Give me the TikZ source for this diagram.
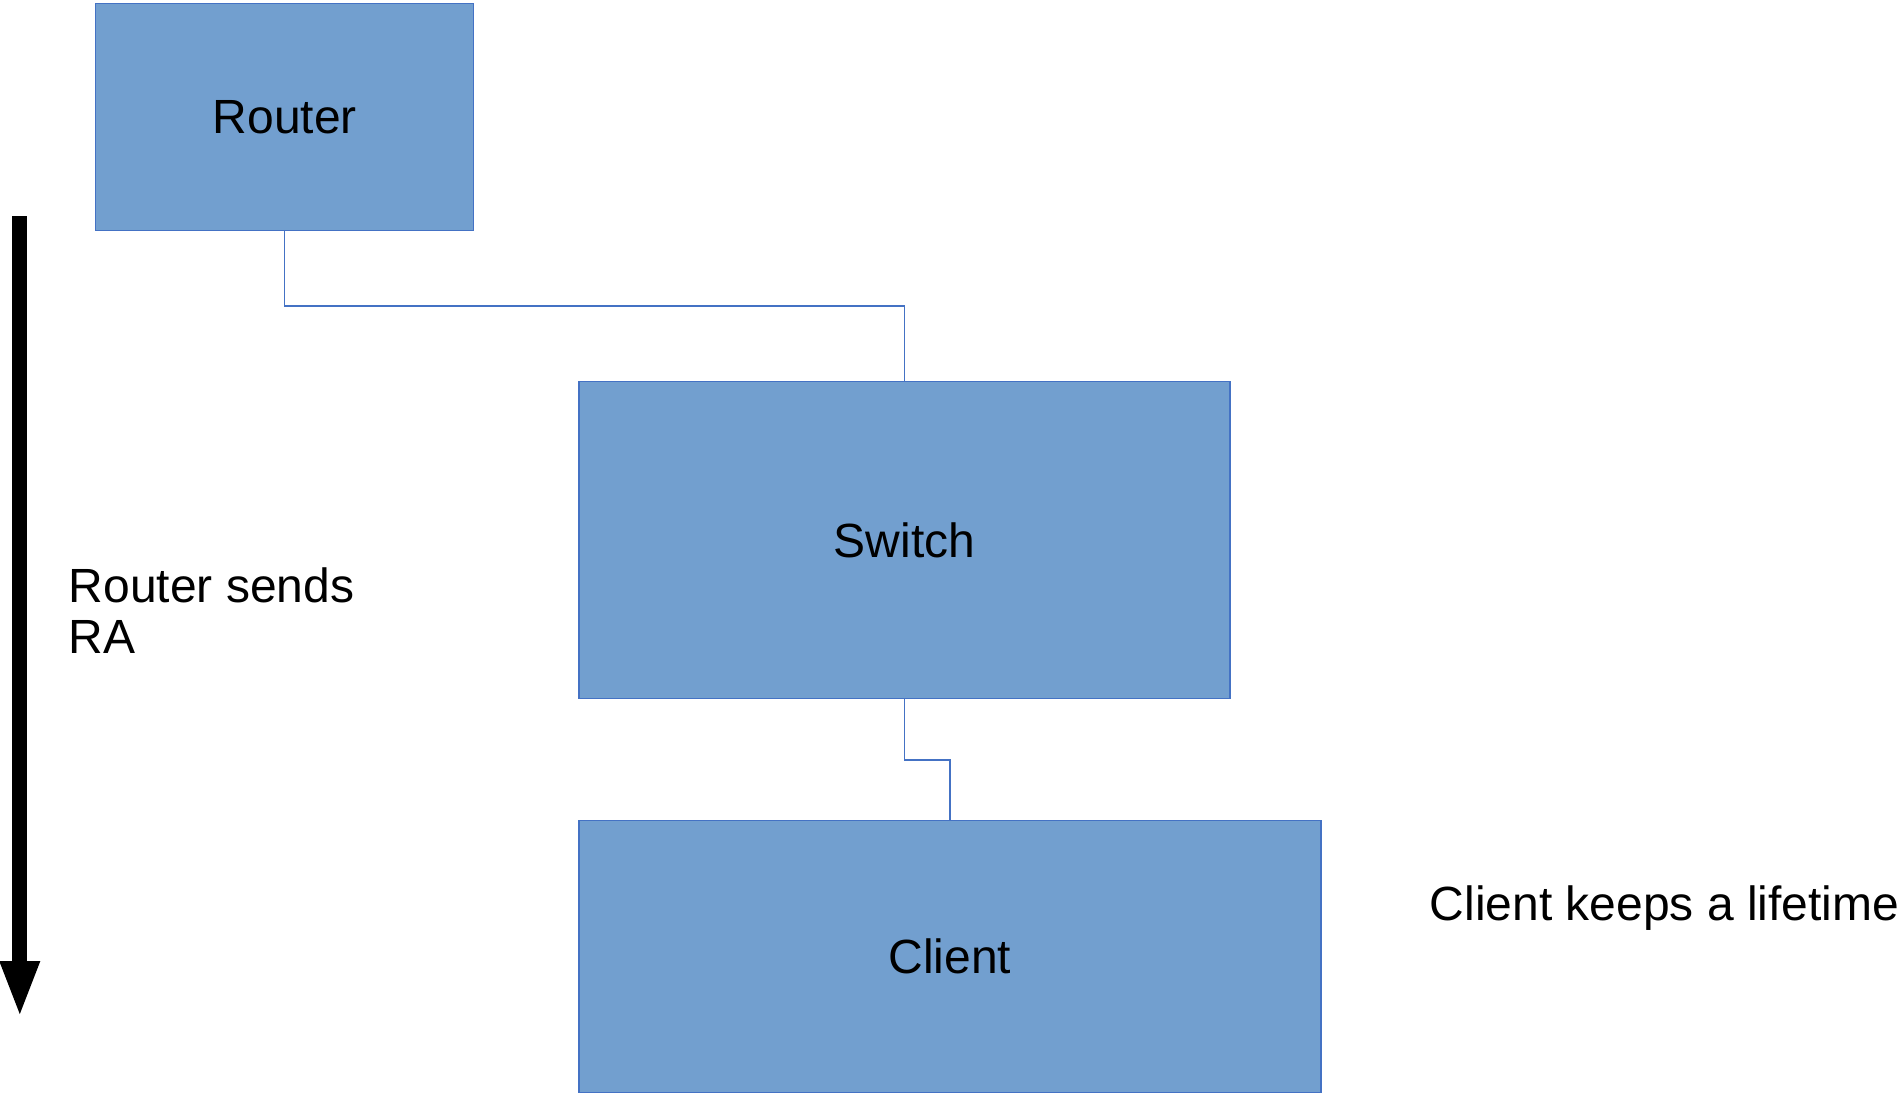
\documentclass[tikz,border=0pt]{standalone}
\usepackage{fontspec}
\setmainfont{Liberation Sans}
\usetikzlibrary{arrows.meta}
\begin{document}
\begin{tikzpicture}[x=1pt,y=-1pt,
  devbox/.style={draw=lineblue,fill=boxblue,line width=1.3pt,inner sep=0pt,
    font=\fontsize{48}{50.5}\selectfont},
  wire/.style={draw=lineblue,line width=1.3pt},
  lbl/.style={inner sep=0pt,font=\fontsize{48}{50.5}\selectfont,align=left}]
\definecolor{boxblue}{HTML}{729FCF}
\definecolor{lineblue}{HTML}{4472C4}
\useasboundingbox (0,0) rectangle (1900,1093);
\node[devbox,minimum width=378pt,minimum height=227pt] (router) at (284.7,117) {Router};
\node[devbox,minimum width=651pt,minimum height=317pt] (switch) at (904.5,540.3) {Switch};
\node[devbox,minimum width=742pt,minimum height=272pt] (client) at (950,956.3) {Client};
\draw[wire] (router.south) |- (904.5,306) -- (switch.north);
\draw[wire] (switch.south) |- (950,760) -- (client.north);
\coordinate (as) at (19.8,216);
\coordinate (ae) at (19.8,1018);
\draw[line width=15pt,-{Triangle[width=36pt,length=57pt]}] (as) -- (ae);
\node[lbl,anchor=base west] (ra) at (68.5,653.2) {Router sends\\RA};
\node[lbl,anchor=base west] (life) at (1429.5,920) {Client keeps a lifetime};
\end{tikzpicture}
\end{document}
